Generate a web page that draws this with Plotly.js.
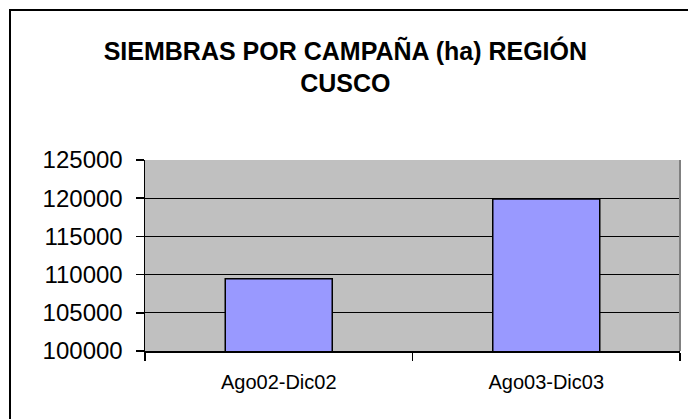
<!DOCTYPE html>
<html>
<head>
<meta charset="utf-8">
<script src="https://cdn.plot.ly/plotly-3.0.1.min.js"></script>
<style>
  body { margin: 0; overflow: hidden; background: #fff; }
  #graph { position: absolute; left: 0; top: 0; width: 688px; height: 419px; }
  #frame { position: absolute; left: 9px; top: 9px; width: 720px; height: 440px;
           border: 2px solid #000; pointer-events: none; }
</style>
</head>
<body>
<div id="graph"></div>
<div id="frame"></div>
<script>
// campaigns and sown hectares
var campaigns = ["Ago02-Dic02", "Ago03-Dic03"];
var hectares = [109450, 119900];
var yTicks = [100000, 105000, 110000, 115000, 120000, 125000];

function drawGraph() {
    var trace, layout;

    trace = {
        x: campaigns,
        y: hectares,
        type: "bar",
        marker: { color: "#9999ff", line: { color: "#000", width: 1.5 } },
        hoverinfo: "x+y"
    };

    layout = {
        width: 688,
        height: 419,
        margin: { l: 145, r: 8, t: 160, b: 68 },
        paper_bgcolor: "#fff",
        plot_bgcolor: "#c0c0c0",
        bargap: 0.6,
        showlegend: false,
        font: { family: "'Liberation Sans', Arial, sans-serif", color: "#000" },
        title: {
            text: "<b>SIEMBRAS POR CAMPAÑA (ha) REGIÓN<br>CUSCO</b>",
            font: { size: 25, color: "#000" },
            xref: "container", x: 0.502, xanchor: "center",
            yref: "container", y: 0.857, yanchor: "top"
        },
        xaxis: {
            type: "category",
            range: [-0.5, 1.5],
            showline: true, linecolor: "#000", linewidth: 1.5,
            ticks: "outside", tickson: "boundaries", ticklen: 8, tickcolor: "#000", tickwidth: 1.5,
            tickfont: { size: 20 },
            ticklabelstandoff: 12,
            showgrid: false
        },
        yaxis: {
            range: [100000, 125000],
            tickvals: yTicks,
            ticktext: yTicks.map(String),
            showline: true, linecolor: "#000", linewidth: 1.5,
            ticks: "outside", ticklen: 8, tickcolor: "#000", tickwidth: 1.5,
            tickfont: { size: 24 },
            ticklabelstandoff: 8,
            showgrid: true, gridcolor: "#000", gridwidth: 1,
            zeroline: false
        },
        shapes: [{
            type: "line", xref: "paper", yref: "paper",
            x0: 1, x1: 1, y0: 0, y1: 1,
            line: { color: "#808080", width: 2 }
        }]
    };

    Plotly.newPlot("graph", [trace], layout, { displayModeBar: false, staticPlot: true });
}

drawGraph();
</script>
</body>
</html>
